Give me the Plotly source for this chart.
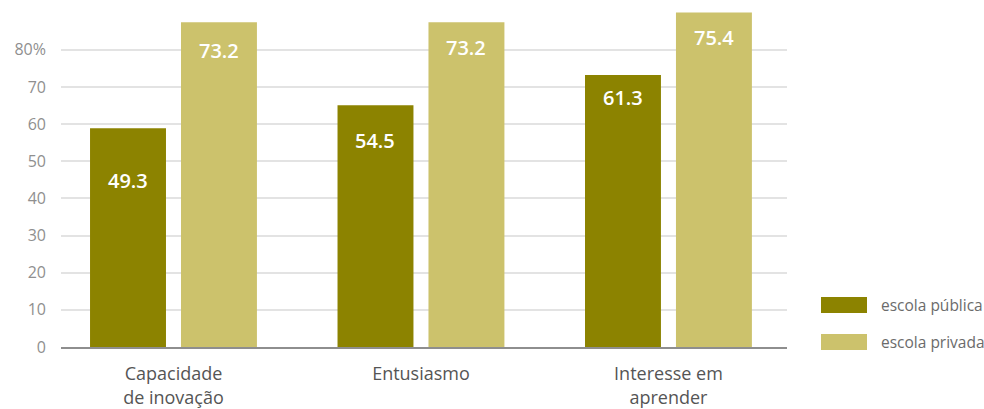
import plotly.graph_objects as go

# Survey results: share of students (%) by school type
categories = ["Capacidade<br>de inovação", "Entusiasmo", "Interesse em<br>aprender"]
series_names = ["escola pública", "escola privada"]
publica = [49.3, 54.5, 61.3]
privada = [73.2, 73.2, 75.4]
tick_labels = ["0", "10", "20", "30", "40", "50", "60", "70", "80%"]
tick_steps = [0, 10, 20, 30, 40, 50, 60, 70, 80]

colors = ["#8c8300", "#ccc26c"]

# value axis: the gridline scale runs at 0.8375 of the bar scale
grid_scale = 0.8375
tickvals = [t * grid_scale for t in tick_steps]

W, H = 984, 409
L, R, T, B = 61, 197, 0, 62
plot_w = W - L - R
plot_h = H - T - B

fig = go.Figure()
for name, vals, col in zip(series_names, [publica, privada], colors):
    fig.add_trace(go.Bar(
        x=categories, y=vals, name=name,
        marker=dict(color=col, line=dict(width=0)),
        showlegend=False, hoverinfo="x+y",
    ))

# value labels inside the bars
label_drop = [[52, 35, 22], [28, 25, 25]]
bar_shift = [-45.5, 45.5]
annotations = []
for s, vals in enumerate([publica, privada]):
    for i, v in enumerate(vals):
        annotations.append(dict(
            x=categories[i], y=v, xref="x", yref="y",
            text=f"{v:.1f}", showarrow=False,
            xshift=bar_shift[s], yshift=-label_drop[s][i],
            yanchor="middle", xanchor="center",
            font=dict(family="Open Sans", size=20, color="white", weight=600),
        ))

# legend: swatches with labels at the right of the plot
def px_x(px):
    return (px - L) / plot_w

def px_y(py):
    return (T + plot_h - py) / plot_h

shapes = []
legend_rows = [(297, 313), (334, 350)]
for (y0, y1), name, col in zip(legend_rows, series_names, colors):
    shapes.append(dict(
        type="rect", xref="paper", yref="paper",
        x0=px_x(821), x1=px_x(867), y0=px_y(y1), y1=px_y(y0),
        fillcolor=col, line=dict(width=0), layer="above",
    ))
    annotations.append(dict(
        x=px_x(879), y=px_y((y0 + y1) / 2), xref="paper", yref="paper",
        text=name, showarrow=False, xanchor="left", yanchor="middle",
        font=dict(family="Open Sans", size=15.5, color="#6b6b6b"),
    ))

fig.update_layout(
    width=W, height=H,
    margin=dict(l=L, r=R, t=T, b=B, pad=0, autoexpand=False),
    paper_bgcolor="white", plot_bgcolor="white",
    barmode="group", bargap=0.265, bargroupgap=0.165,
    annotations=annotations, shapes=shapes,
    font=dict(family="Open Sans"),
)
fig.update_xaxes(
    range=[-0.4545, 2.479], automargin=False,
    showline=True, linecolor="#8e8e8e", linewidth=1.5,
    showgrid=False, ticks="", ticklabelstandoff=10,
    tickfont=dict(family="Open Sans", size=18, color="#555555"),
)
fig.update_yaxes(
    range=[0, plot_h / 4.436], automargin=False,
    tickvals=tickvals, ticktext=tick_labels,
    showgrid=True, gridcolor="#e3e3e3", gridwidth=1.5,
    zeroline=False, showline=False, ticks="",
    ticklabelstandoff=14,
    tickfont=dict(family="Open Sans", size=16, color="#8f8f8f"),
)

fig.write_html("out.html")
